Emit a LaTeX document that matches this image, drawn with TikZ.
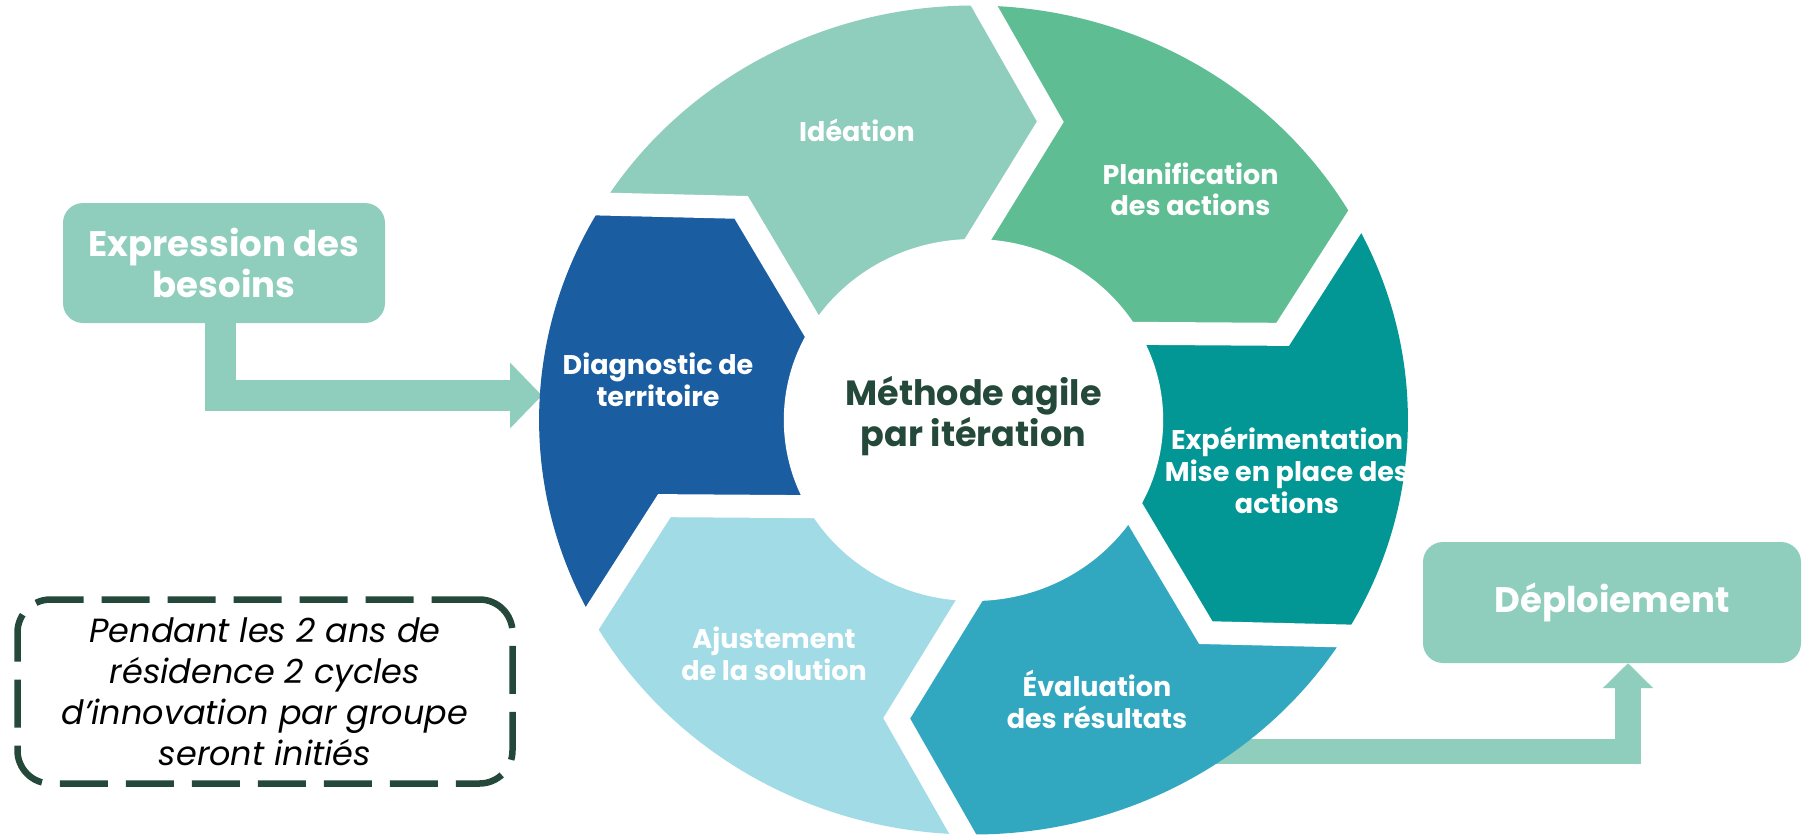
\documentclass[tikz,border=0pt]{standalone}
\usepackage{fontspec}
\setmainfont{Poppins}
\usepackage{xcolor}
\usepackage{tikz}
\usetikzlibrary{arrows.meta, calc}
\definecolor{themecolor}{RGB}{36, 72, 58}
\definecolor{mintcolor}{RGB}{143, 205, 189}
\definecolor{plancolor}{RGB}{95, 189, 148}
\definecolor{expcolor}{RGB}{2, 151, 149}
\definecolor{evalcolor}{RGB}{50, 168, 192}
\definecolor{ajustcolor}{RGB}{160, 219, 230}
\definecolor{diagcolor}{RGB}{26, 93, 161}

\begin{document}
\begin{tikzpicture}[x=1pt, y=1pt,
		steplabel/.style={text=white, font=\bfseries\fontsize{27}{32}\selectfont, align=center, anchor=base, inner sep=0pt},
		sidebox/.style={fill=mintcolor, rounded corners=20pt, text=white, font=\bfseries\fontsize{35.5}{41}\selectfont, align=center, inner sep=0pt},
		flowarrow/.style={mintcolor, line join=miter}]
			\useasboundingbox (0,0) rectangle (1805,-836);
			\node[sidebox, minimum width=322pt, minimum height=120pt] (besoins) at (224,-263) {Expression des\\besoins};
			\node[sidebox, minimum width=378pt, minimum height=121pt] (deploiement) at (1612,-602.5) {Déploiement};
			\node[draw=themecolor, line width=6.5pt, dash pattern=on 48pt off 18pt, rounded corners=33pt, minimum width=495pt, minimum height=184pt, inner sep=0pt, align=center, font=\itshape\fontsize{33.5}{41}\selectfont] (residence) at (265,-691.5) {Pendant les 2 ans de\\résidence 2 cycles\\d’innovation par groupe\\seront initiés};
			\coordinate (ringW) at (542,-395.5);
			\coordinate (evalout) at (1150,-751.5);
			\draw[flowarrow, line width=31pt, -{Triangle[length=32pt, width=64pt]}] ([xshift=-4pt]besoins.south) |- (ringW);
			\draw[flowarrow, line width=25.5pt, -{Triangle[length=25pt, width=49pt]}] (evalout) -| ([xshift=16pt]deploiement.south);
			% cycle of six chevrons
			\begin{scope}[shift={(973.5,-420)}, xscale=1.048]
				\foreach \k in {0,...,5} {
					\pgfmathsetmacro{\a}{88.6-60*\k}
					\coordinate (o\k) at (\a:414.5);
					\coordinate (i\k) at (\a:181);
					\coordinate (p\k) at ({300*cos(\a)+66*sin(\a)}, {300*sin(\a)-66*cos(\a)});
				}
				\foreach \k/\col in {0/plancolor, 1/expcolor, 2/evalcolor, 3/ajustcolor, 4/diagcolor, 5/mintcolor} {
					\pgfmathtruncatemacro{\n}{mod(\k+1,6)}
					\pgfmathsetmacro{\a}{88.6-60*\k}
					\fill[\col] (0,0) -- (i\k) -- (p\k) -- (o\k) arc[start angle=\a, end angle=\a-60, radius=414.5] -- (p\n) -- (i\n) -- cycle;
				}
			\end{scope}
			\foreach \k in {0,...,5}
				\draw[white, line width=23pt, line join=miter] ($(p\k)!1.25!(o\k)$) -- (p\k) -- ($(p\k)!1.4!(i\k)$);
			\fill[white] (973.5,-420) ellipse [x radius=189.7, y radius=181];
			\node[steplabel] (ideation) at (857,-141.7) {Idéation};
			\node[steplabel, font=\bfseries\fontsize{27}{31}\selectfont] (planif) at (1190.5,-215) {Planification\\des actions};
			\node[steplabel] (experim) at (1287,-513) {Expérimentation\\Mise en place des\\actions};
			\node[steplabel] (evaluation) at (1097,-728) {Évaluation\\des résultats};
			\node[steplabel] (ajustement) at (774,-680) {Ajustement\\de la solution};
			\node[steplabel] (diagnostic) at (658,-406.7) {Diagnostic de\\territoire};
			\node[steplabel, text=themecolor, font=\bfseries\fontsize{35}{41}\selectfont] (centre) at (973.5,-446) {Méthode agile\\par itération};
		\end{tikzpicture}
\end{document}
